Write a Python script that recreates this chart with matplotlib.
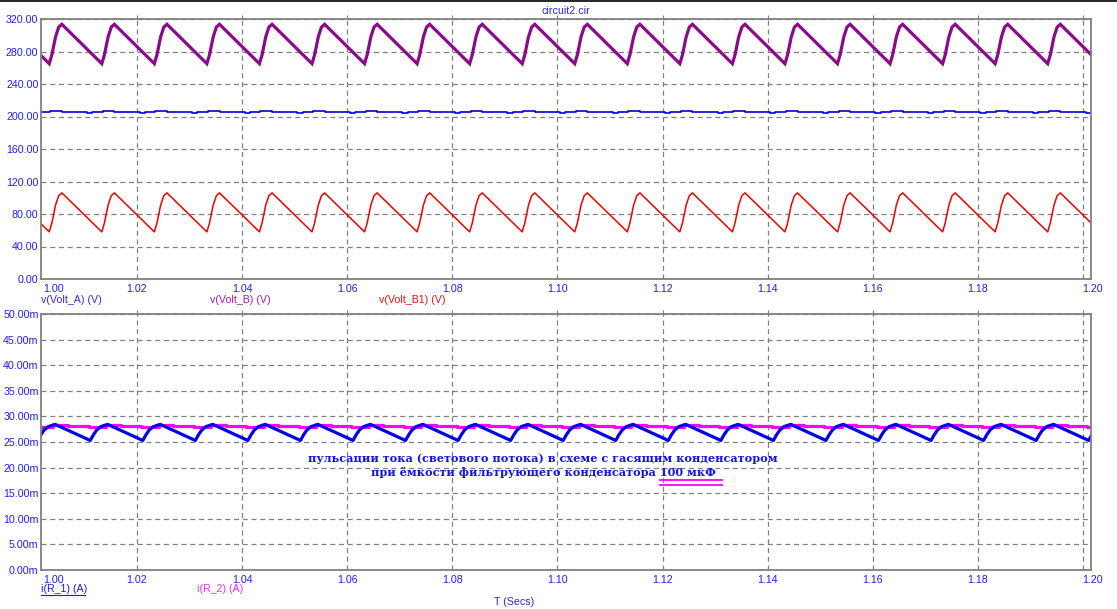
import numpy as np
import matplotlib
matplotlib.use("Agg")
import matplotlib.pyplot as plt
from matplotlib.transforms import blended_transform_factory

# ---------------- data ----------------
# top panel: voltages (V); bottom panel: currents (mA)
x_ticks = [1.02, 1.04, 1.06, 1.08, 1.10, 1.12, 1.14, 1.16, 1.18, 1.20]
x_ticklabels = ["1.02", "1.04", "1.06", "1.08", "1.10", "1.12", "1.14", "1.16", "1.18", "1.20"]
top_yticks = [0, 40, 80, 120, 160, 200, 240, 280, 320]
top_yticklabels = ["0.00", "40.00", "80.00", "120.00", "160.00", "200.00", "240.00", "280.00", "320.00"]
bot_yticks = [0, 5, 10, 15, 20, 25, 30, 35, 40, 45, 50]
bot_yticklabels = ["0.00m", "5.00m", "10.00m", "15.00m", "20.00m", "25.00m",
                   "30.00m", "35.00m", "40.00m", "45.00m", "50.00m"]

# voltage waveforms: trough instants, and shape of the charging (rise) segment
v_trough_t = [0.9933, 1.0033, 1.0133, 1.0233, 1.0333, 1.0433, 1.0533, 1.0633, 1.0733,
              1.0833, 1.0933, 1.1033, 1.1133, 1.1233, 1.1333, 1.1433, 1.1533, 1.1633,
              1.1733, 1.1833, 1.1933, 1.2033]
v_rise_dt = [0.0, 0.0005, 0.0012, 0.0018, 0.0024]
volt_a_rise = [265.0, 276.0, 298.0, 310.0, 313.5]
volt_b1_rise = [58.0, 69.0, 91.0, 102.5, 106.0]
# Volt_B: nearly flat, with small steps
volt_b_dt = [0.0, 0.0002, 0.0002, 0.0024, 0.0024, 0.0072, 0.0072, 0.0082, 0.0082]
volt_b_val = [205.0, 205.0, 206.6, 206.6, 205.0, 205.0, 203.9, 203.9, 205.0]

# current waveforms
i_trough_t = [0.9911, 1.0011, 1.0111, 1.0211, 1.0311, 1.0411, 1.0511, 1.0611, 1.0711,
              1.0811, 1.0911, 1.1011, 1.1111, 1.1211, 1.1311, 1.1411, 1.1511, 1.1611,
              1.1711, 1.1811, 1.1911, 1.2011]
r1_rise_dt = [0.0, 0.0006, 0.0012, 0.0020, 0.0033]
r1_rise = [25.3, 26.4, 27.3, 28.0, 28.45]
r2_dt = [-0.0003, 0.0030, 0.0030, 0.0058, 0.0058, 0.0097]
r2_val = [27.85, 27.85, 28.25, 28.25, 28.05, 28.05]

# ---------------- build polylines from the read vertices ----------------
def vertices(troughs, dts, vals):
    t, v = [], []
    for t0 in troughs:
        for d, y in zip(dts, vals):
            t.append(t0 + d)
            v.append(y)
    return np.array(t), np.array(v)

ta, va = vertices(v_trough_t, v_rise_dt, volt_a_rise)
tb1, vb1 = vertices(v_trough_t, v_rise_dt, volt_b1_rise)
tb, vb = vertices(v_trough_t, volt_b_dt, volt_b_val)
tr1, ir1 = vertices(i_trough_t, r1_rise_dt, r1_rise)
tr2, ir2 = vertices(i_trough_t, r2_dt, r2_val)

# ---------------- figure ----------------
W, H = 1117, 609
fig = plt.figure(figsize=(W / 100, H / 100), dpi=100)
fig.patch.set_facecolor("white")
FONT = ["Liberation Sans", "DejaVu Sans"]
TXT = "#1f1fff"
GRID = "#808080"

px_per_s = 5255.0
xl = 1.02 - (137 - 41) / px_per_s
xr = xl + (1091 - 41) / px_per_s

def make_ax(top_px, bot_px):
    ax = fig.add_axes([41 / W, 1 - bot_px / H, (1091 - 41) / W, (bot_px - top_px) / H])
    ax.set_xlim(xl, xr)
    for s in ax.spines.values():
        s.set_color(GRID)
        s.set_linewidth(1.3)
    ax.grid(True, color=GRID, linestyle=(0, (4, 3)), linewidth=0.9)
    ax.set_axisbelow(True)
    ax.set_xticks(x_ticks)
    ax.tick_params(axis="x", which="both", bottom=False, labelbottom=False,
                   top=True, direction="out", length=3, color=GRID)
    ax.tick_params(axis="y", length=0, pad=1.8, labelcolor=TXT, labelsize=7.7)
    trans = blended_transform_factory(ax.transData, ax.transAxes)
    for xv, lab in zip(x_ticks, x_ticklabels):
        xx = xv if xv < 1.199 else xr + 0.0002
        ax.text(xx, -0.018, lab, transform=trans, ha="center", va="top",
                color=TXT, fontsize=7.7, family=FONT)
    ax.text(0.002, -0.018, "1.00", transform=ax.transAxes, ha="left", va="top",
            color=TXT, fontsize=7.7, family=FONT)
    return ax

ax1 = make_ax(19, 279)
ax1.set_ylim(0, 320)
ax1.set_yticks(top_yticks)
ax1.set_yticklabels(top_yticklabels, family=FONT)
ax1.plot(ta, va, color="#8b0a8b", lw=2.3, solid_joinstyle="miter")
ax1.plot(tb, vb, color="#0000dd", lw=1.2)
ax1.plot(tb1, vb1, color="#ee0000", lw=1.1)

ax2 = make_ax(314, 570)
ax2.set_ylim(0, 50)
ax2.set_yticks(bot_yticks)
ax2.set_yticklabels(bot_yticklabels, family=FONT)
ax2.plot(tr2, ir2, color="#ff00ff", lw=2.3)
ax2.plot(tr1, ir1, color="#0000ee", lw=2.3)

def ftxt(xp, yp, s, **kw):
    fig.text(xp / W, 1 - yp / H, s, **kw)

# title and window line
ftxt(566, 11, "circuit2.cir", ha="center", va="center", color="#2a2ae0",
     fontsize=7.7, family=FONT)
fig.add_artist(plt.Line2D([0, 1], [1 - 0.8 / H, 1 - 0.8 / H], color="black", lw=1.2))

# curve legends
ftxt(41, 300, "v(Volt_A) (V)", ha="left", va="center", color="#3a2ad8", fontsize=7.7, family=FONT)
ftxt(210, 300, "v(Volt_B) (V)", ha="left", va="center", color="#a020a8", fontsize=7.7, family=FONT)
ftxt(379, 300, "v(Volt_B1) (V)", ha="left", va="center", color="#ee1010", fontsize=7.7, family=FONT)
ftxt(41, 589, "i(R_1) (A)", ha="left", va="center", color="#1a1aee", fontsize=7.7, family=FONT)
fig.add_artist(plt.Line2D([41 / W, 85 / W], [1 - 595 / H, 1 - 595 / H], color="#1a1aee", lw=0.8))
ftxt(197, 589, "i(R_2) (A)", ha="left", va="center", color="#ee30ee", fontsize=7.7, family=FONT)
ftxt(514, 602, "T (Secs)", ha="center", va="center", color="#2a2ae0", fontsize=7.7, family=FONT)

# annotation
SER = ["DejaVu Serif", "Liberation Serif"]
ftxt(543, 458, "пульсации тока (светового потока) в схеме с гасящим конденсатором",
     ha="center", va="center", color="#1414f0", fontsize=8.1, fontweight="heavy", family=SER)
ftxt(543, 472, "при ёмкости фильтрующего конденсатора 100 мкФ",
     ha="center", va="center", color="#1414f0", fontsize=8.1, fontweight="heavy", family=SER)
for yy in (479.5, 484.5):
    fig.add_artist(plt.Line2D([660 / W, 722 / W], [1 - yy / H, 1 - yy / H], color="#ff00ff", lw=1.3))

fig.savefig("out.png", dpi=100, facecolor="white")
